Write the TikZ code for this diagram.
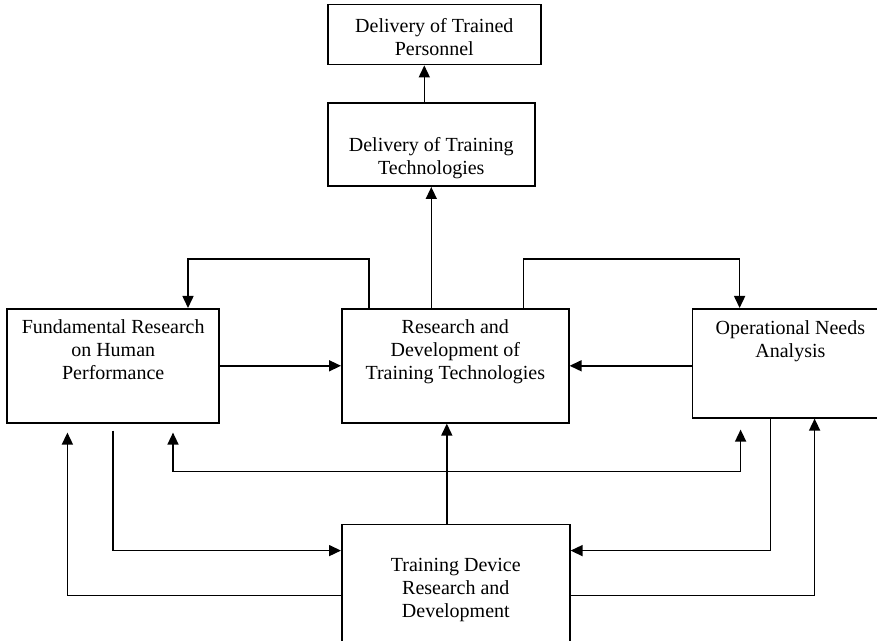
\documentclass[tikz,border=0pt]{standalone}
\usepackage{fontspec}
\setmainfont{Liberation Serif}
\usepackage{tikz}
\usetikzlibrary{arrows.meta, positioning}
\newcommand{\boxtext}[4]{\parbox[c][#2][t]{#1}{\centering\vspace*{#3}#4}}

\begin{document}
\begin{tikzpicture}[x=1pt, y=1pt, font=\fontsize{20}{23}\selectfont,
        block/.style={draw, line width=1.6pt, inner sep=0pt},
        arr/.style={-{Triangle[length=12pt,width=11pt]}, line width=1.5pt}]
        \useasboundingbox (0,0) rectangle (877,640);

        \node[block, anchor=north west]  (rnd)   at (341,332)                                      {\boxtext{227pt}{114pt}{11pt}{Research and\\Development of\\Training Technologies}};
        \node[block]                     (fund)  [left=121pt of rnd]                               {\boxtext{212pt}{114pt}{11pt}{Fundamental Research\\on Human\\Performance}};
        \node[block]                     (ona)   [right=122pt of rnd.north east, anchor=north west] {\boxtext{196pt}{109pt}{12pt}{Operational Needs\\Analysis}};
        \node[block]                     (deliv) [above=121pt of rnd.north west, anchor=south west, xshift=-14pt] {\boxtext{207pt}{83pt}{34pt}{Delivery of Training\\Technologies}};
        \node[block]                     (pers)  [above=37pt of deliv.north west, anchor=south west] {\boxtext{213pt}{60pt}{14pt}{Delivery of Trained\\Personnel}};
        \node[block]                     (dev)   [below=100pt of rnd.south west, anchor=north west] {\boxtext{228pt}{130pt}{34pt}{Training Device\\Research and\\Development}};

        \draw[arr] ([xshift=-7pt]deliv.north) -- ([xshift=-7pt]deliv.north |- pers.south);
        \draw[arr] (deliv.south |- rnd.north) -- (deliv.south);
        \draw[arr] ([xshift=28pt]rnd.north west) -- ++(0,49pt) -| ([xshift=-32pt]fund.north east);
        \draw[arr] ([xshift=-46pt]rnd.north east) -- ++(0,49pt) -| ([xshift=48pt]ona.north west);
        \draw[arr] (fund.east) -- (rnd.west);
        \draw[arr] (ona.west |- rnd.east) -- (rnd.east);

        \path ([xshift=-9pt]dev.north) ++(0,52pt) coordinate (hub);
        \draw[arr] ([xshift=-9pt]dev.north) -- ([xshift=-9pt]dev.north |- rnd.south);
        \draw[arr, shorten >=9pt] (hub) -| ([xshift=-47pt]fund.south east);
        \draw[arr, shorten >=11pt] (hub) -| ([xshift=49pt]ona.south west);

        \draw[arr, shorten <=7pt] (fund.south) |- ([yshift=-27pt]dev.north west);
        \draw[arr] ([xshift=79pt]ona.south west) |- ([yshift=-27pt]dev.north east);
        \draw[arr, shorten >=9pt] ([yshift=-72pt]dev.north west) -| ([xshift=61pt]fund.south west);
        \draw[arr] ([yshift=-72pt]dev.north east) -| ([xshift=123pt]ona.south west);
\end{tikzpicture}
\end{document}
